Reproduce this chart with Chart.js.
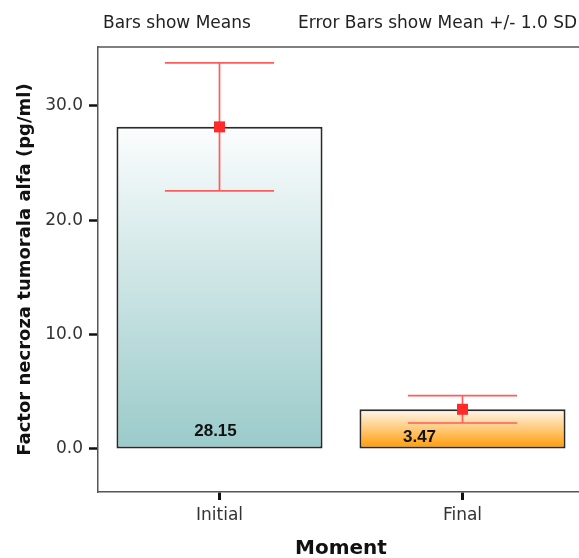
<!DOCTYPE html>
<html>
<head>
<meta charset="utf-8">
<script src="https://cdn.jsdelivr.net/npm/chart.js@4.4.1/dist/chart.umd.min.js"></script>
<style>
  html, body { margin: 0; padding: 0; background: #fff; overflow: hidden; }
  #wrap { width: 579px; height: 558px; overflow: hidden; position: relative; }
  canvas { display: block; }
</style>
</head>
<body>
<div id="wrap"><canvas id="tnf-chart" width="584" height="558"></canvas></div>
<script>
// TNF-alfa per moment: mean and standard deviation
const moments = ["Initial", "Final"];
const means = [28.15, 3.47];
const sds = [5.6, 1.2];
const yTicks = [0, 10, 20, 30];
const headerLeft = "Bars show Means";
const headerRight = "Error Bars show Mean +/- 1.0 SD";

const SANS = "'DejaVu Sans', sans-serif";

// gradient stops per bar (top -> base)
const barGradients = [
  ["#fbfdfd", "#9acaca"],
  ["#fff8ef", "#ff9a00"]
];
// value label shifts inside each bar (px from bar centre / base)
const labelShift = [{ dx: -4, dy: -13 }, { dx: -43, dy: -7 }];

function barFill(ctx) {
  const chart = ctx.chart;
  const stops = barGradients[ctx.dataIndex % barGradients.length];
  if (!chart.chartArea || !chart.scales.y) return stops[1];
  const y = chart.scales.y;
  const top = y.getPixelForValue(means[ctx.dataIndex]);
  const base = y.getPixelForValue(0);
  const g = chart.ctx.createLinearGradient(0, top, 0, base);
  g.addColorStop(0, stops[0]);
  g.addColorStop(1, stops[1]);
  return g;
}

// header texts, top frame line, error bars, mean markers, value labels
const extras = {
  id: "extras",
  afterDraw(chart) {
    const ctx = chart.ctx;
    const area = chart.chartArea;
    const y = chart.scales.y;
    const meta = chart.getDatasetMeta(0);

    ctx.save();
    ctx.fillStyle = "#222";
    ctx.font = "17px " + SANS;
    ctx.textBaseline = "alphabetic";
    ctx.textAlign = "left";
    ctx.fillText(headerLeft, 103, 28);
    ctx.fillText(headerRight, 298, 28);

    ctx.strokeStyle = "#555";
    ctx.lineWidth = 1.5;
    ctx.beginPath();
    ctx.moveTo(area.left, area.top);
    ctx.lineTo(area.right, area.top);
    ctx.stroke();

    meta.data.forEach((bar, i) => {
      const cx = bar.x;
      const half = bar.width * 0.265;
      const yHi = y.getPixelForValue(means[i] + sds[i]);
      const yLo = y.getPixelForValue(means[i] - sds[i]);
      const yMean = y.getPixelForValue(means[i]);

      ctx.strokeStyle = "#ff5c5c";
      ctx.lineWidth = 1.7;
      ctx.beginPath();
      ctx.moveTo(cx, yHi); ctx.lineTo(cx, yLo);
      ctx.moveTo(cx - half, yHi); ctx.lineTo(cx + half, yHi);
      ctx.moveTo(cx - half, yLo); ctx.lineTo(cx + half, yLo);
      ctx.stroke();

      ctx.fillStyle = "#ff2b2b";
      ctx.fillRect(cx - 5.5, yMean - 5.5, 11, 11);

      const sh = labelShift[i];
      ctx.fillStyle = "#111";
      ctx.font = "bold 17px 'Liberation Sans', Arial, sans-serif";
      ctx.textAlign = "center";
      ctx.fillText(means[i].toFixed(2), cx + sh.dx, y.getPixelForValue(0) + sh.dy);
    });
    ctx.restore();
  }
};

new Chart(document.getElementById("tnf-chart"), {
  type: "bar",
  data: {
    labels: moments,
    datasets: [{
      data: means,
      backgroundColor: barFill,
      borderColor: "#2a2a2a",
      borderWidth: 2,
      borderSkipped: false,
      barPercentage: 0.848,
      categoryPercentage: 1
    }]
  },
  options: {
    responsive: false,
    animation: false,
    layout: { padding: { top: 47, left: 0, right: 0, bottom: 0 } },
    plugins: { legend: { display: false }, tooltip: { enabled: false } },
    scales: {
      x: {
        offset: true,
        afterFit: s => { s.height = 66; },
        grid: {
          offset: false,
          drawOnChartArea: false,
          drawTicks: true,
          tickLength: 8,
          tickColor: "#111",
          tickWidth: 3
        },
        border: { display: true, color: "#555", width: 1.5 },
        ticks: { color: "#333", font: { family: SANS, size: 17 }, padding: 5 },
        title: {
          display: true,
          text: "Moment",
          color: "#111",
          font: { family: SANS, size: 20, weight: "bold", lineHeight: 0.9 },
          padding: { top: 0, bottom: 0 }
        }
      },
      y: {
        min: -3.758,
        max: 35.13,
        afterFit: s => { s.width = 98; },
        afterBuildTicks: s => { s.ticks = yTicks.map(v => ({ value: v })); },
        grid: {
          drawOnChartArea: false,
          drawTicks: true,
          tickLength: 9,
          tickColor: "#111",
          tickWidth: 2.5
        },
        border: { display: true, color: "#555", width: 1.5 },
        ticks: {
          color: "#333",
          font: { family: SANS, size: 17 },
          padding: 6,
          callback: v => Number(v).toFixed(1)
        },
        title: {
          display: true,
          text: "Factor necroza tumorala alfa (pg/ml)",
          color: "#111",
          font: { family: SANS, size: 18, weight: "bold" },
          padding: { top: 15, bottom: 0 }
        }
      }
    }
  },
  plugins: [extras]
});
</script>
</body>
</html>
